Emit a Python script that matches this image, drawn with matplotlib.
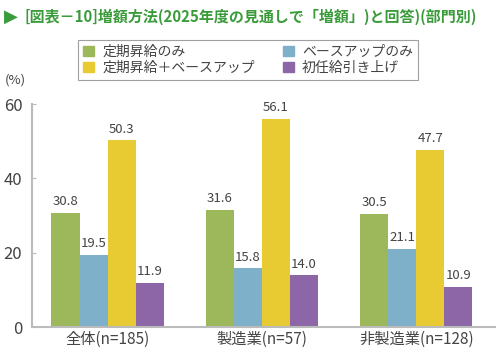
import numpy as np
import matplotlib
matplotlib.use('Agg')
import matplotlib.pyplot as plt
from matplotlib.patches import Patch

plt.rcParams['font.family'] = ['Noto Sans CJK JP', 'DejaVu Sans']

categories = ['全体(n=185)', '製造業(n=57)', '非製造業(n=128)']
series_names = ['定期昇給のみ', 'ベースアップのみ', '定期昇給＋ベースアップ', '初任給引き上げ']
values = [
    [30.8, 31.6, 30.5],
    [19.5, 15.8, 21.1],
    [50.3, 56.1, 47.7],
    [11.9, 14.0, 10.9],
]
colors = ['#9cb85b', '#7fb0ca', '#e8ca33', '#8d66a7']

fig = plt.figure(figsize=(5, 3.54), dpi=100)
ax = fig.add_axes([0.064, 0.076, 0.926, 0.63])

x = np.arange(len(categories))
w = 0.182
for i, (name, vals) in enumerate(zip(series_names, values)):
    pos = x + (i - 1.5) * w
    ax.bar(pos, vals, w, color=colors[i], label=name)
    for p, v in zip(pos, vals):
        ax.text(p, v + 1.2, f'{v:.1f}', ha='center', va='bottom', fontsize=9.5, color='#444444')

ax.set_xlim(-0.49, 2.51)
ax.set_ylim(0, 60)
ax.set_yticks([0, 20, 40, 60])
ax.set_xticks(x)
ax.set_xticklabels(categories)
ax.tick_params(axis='y', direction='in', length=3, color='#bbbbbb', labelsize=12, labelcolor='#444444', pad=7)
ax.tick_params(axis='x', length=0, labelsize=11, labelcolor='#444444', pad=3)
for s in ['top', 'right']:
    ax.spines[s].set_visible(False)
for s in ['left', 'bottom']:
    ax.spines[s].set_color('#bbbbbb')
    ax.spines[s].set_linewidth(1.5)

fig.text(0.01, 0.775, '(%)', fontsize=9.5, color='#444444', va='center')

handles = [Patch(color=c) for c in colors]
order = [0, 2, 1, 3]
leg = fig.legend([handles[k] for k in order], [series_names[k] for k in order],
                 ncol=2, loc='center', bbox_to_anchor=(0.496, 0.831),
                 fontsize=10, frameon=True, fancybox=False, handlelength=0.8, handleheight=0.8,
                 columnspacing=2.0, labelspacing=0.15, borderpad=0.35, handletextpad=0.6)
leg.get_frame().set_edgecolor('#888888')
leg.get_frame().set_linewidth(0.8)
for t in leg.get_texts():
    t.set_color('#444444')

fig.text(0.008, 0.952, '▶', fontsize=13, color='#3a9b3a', va='center', family=['DejaVu Sans'])
fig.text(0.05, 0.952, '[図表－10]増額方法(2025年度の見通しで「増額」)と回答)(部門別)', fontsize=10.8,
         color='#3a9b3a', va='center', weight='bold')

fig.savefig('out.png', dpi=100)
